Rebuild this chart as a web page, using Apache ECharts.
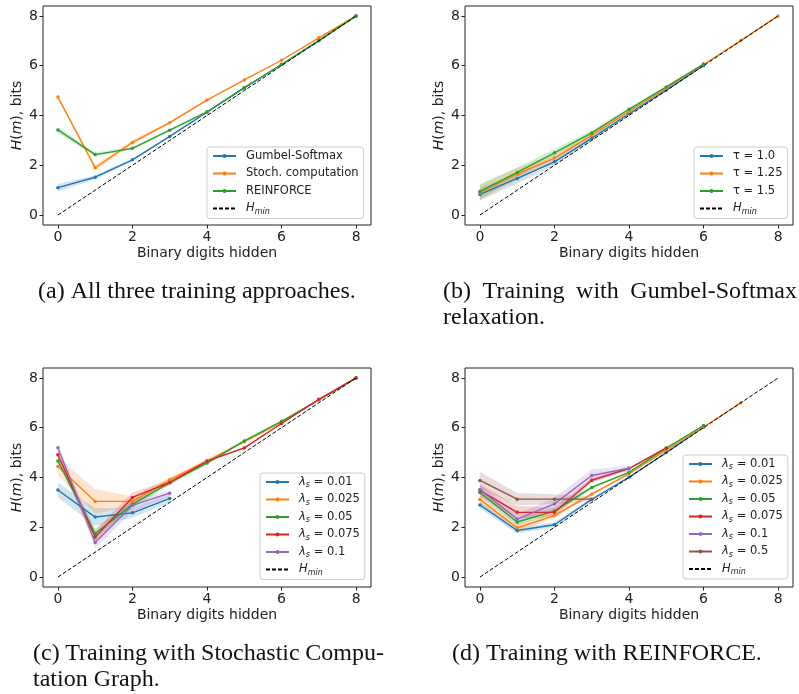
<!DOCTYPE html>
<html>
<head>
<meta charset="utf-8">
<script src="https://cdn.jsdelivr.net/npm/echarts@6/dist/echarts.min.js"></script>
<style>
  html, body { margin: 0; padding: 0; background: #fff; }
  #chart { width: 799px; height: 694px; }
</style>
</head>
<body>
<div id="chart"></div>
<script>
// x positions shared by all panels
const xVals = [0, 1, 2, 3, 4, 5, 6, 7, 8];
const tickVals = [0, 2, 4, 6, 8];
const hMin = [0, 1, 2, 3, 4, 5, 6, 7, 8];

// (a) all three approaches
const aGumbel = [1.10, 1.52, 2.22, 3.16, 4.13, 5.11, 6.05, 7.01, 8.0];
const aStoch = [4.74, 1.90, 2.92, 3.71, 4.62, 5.43, 6.22, 7.12, 8.0];
const aReinforce = [3.42, 2.43, 2.68, 3.41, 4.15, 5.12, 6.05, 7.00, 8.0];
const aGumbelSpread = [0.15, 0.08, 0.05, 0.03, 0.02, 0.02, 0.01, 0.01, 0];
const aStochSpread = [0.05, 0.12, 0.10, 0.05, 0.03, 0.02, 0.02, 0.01, 0];
const aReinforceSpread = [0.12, 0.08, 0.05, 0.04, 0.03, 0.02, 0.01, 0.01, 0];

// (b) Gumbel-Softmax temperatures
const bTau10 = [0.83, 1.47, 2.14, 3.08, 4.07, 5.02, 6.01, null, null];
const bTau125 = [0.90, 1.65, 2.29, 3.20, 4.16, 5.10, 6.05, 7.01, 8.0];
const bTau15 = [0.95, 1.71, 2.50, 3.30, 4.25, 5.15, 6.07, null, null];
const bTau10Spread = [0.25, 0.20, 0.15, 0.08, 0.06, 0.04, 0.02, null, null];
const bTau125Spread = [0.30, 0.25, 0.15, 0.10, 0.06, 0.04, 0.02, 0.01, 0];
const bTau15Spread = [0.30, 0.20, 0.15, 0.10, 0.06, 0.04, 0.02, null, null];

// (c) stochastic computation graph, lambda_s
const cL001 = [3.50, 2.41, 2.58, 3.16, null, null, null, null, null];
const cL0025 = [4.44, 3.04, 3.04, 3.91, 4.66, 5.44, 6.22, 7.12, 8.0];
const cL005 = [4.66, 1.75, 2.92, 3.79, 4.58, 5.47, 6.26, 7.12, 8.0];
const cL0075 = [4.91, 1.61, 3.20, 3.80, 4.66, 5.19, 6.17, 7.14, 8.0];
const cL01 = [5.20, 1.39, 2.88, 3.37, null, null, null, null, null];
const cL001Spread = [0.30, 0.35, 0.20, 0.15, null, null, null, null, null];
const cL0025Spread = [0.35, 0.50, 0.20, 0.10, 0.08, 0.04, 0.03, 0.02, 0];
const cL005Spread = [0.10, 0.20, 0.15, 0.10, 0.05, 0.04, 0.03, 0.02, 0];
const cL0075Spread = [0.15, 0.25, 0.20, 0.10, 0.05, 0.04, 0.03, 0.02, 0];
const cL01Spread = [0.15, 0.25, 0.25, 0.10, null, null, null, null, null];

// (d) REINFORCE, lambda_s
const dL001 = [2.90, 1.87, 2.10, 3.12, 4.01, 5.00, 6.02, null, null];
const dL0025 = [3.12, 1.98, 2.47, 3.33, 4.15, 5.10, 6.03, 7.00, null];
const dL005 = [3.40, 2.21, 2.65, 3.60, 4.21, 5.18, 6.09, null, null];
const dL0075 = [3.48, 2.60, 2.60, 3.89, 4.36, 5.19, null, null, null];
const dL01 = [3.52, 2.33, 2.94, 4.08, 4.37, null, null, null, null];
const dL05 = [3.88, 3.13, 3.13, 3.13, null, null, null, null, null];
const dL001Spread = [0.15, 0.12, 0.10, 0.05, 0.03, 0.02, 0.01, null, null];
const dL0025Spread = [0.15, 0.15, 0.10, 0.05, 0.04, 0.02, 0.01, 0.01, null];
const dL005Spread = [0.15, 0.15, 0.12, 0.06, 0.04, 0.03, 0.02, null, null];
const dL0075Spread = [0.25, 0.25, 0.20, 0.10, 0.05, 0.03, null, null, null];
const dL01Spread = [0.20, 0.20, 0.25, 0.25, 0.10, null, null, null, null];
const dL05Spread = [0.35, 0.25, 0.20, 0.10, null, null, null, null, null];

const COLORS = ['#1f77b4', '#ff7f0e', '#2ca02c', '#d62728', '#9467bd', '#8c564b'];
const FONT = 'DejaVu Sans';

// display labels for legend entries (series names must be unique per panel)
const labels = {};

const toPoints = (ys) => xVals.map((x, i) => ys[i] == null ? null : [x, ys[i]]).filter(p => p);

const series = [];

// shaded spread drawn as one polygon (upper edge forward, lower edge back)
function addBand(panel, ys, spread, color) {
  const pts = xVals.map((x, i) => ys[i] == null ? null : [x, ys[i] - spread[i], ys[i] + spread[i]]).filter(p => p);
  series.push({
    type: 'custom', xAxisIndex: panel, yAxisIndex: panel, data: pts, silent: true, z: 1,
    encode: { x: 0, y: [1, 2] },
    renderItem: (params, api) => {
      if (params.dataIndex !== 0) return null;
      const upper = pts.map(p => api.coord([p[0], p[2]]));
      const lower = pts.map(p => api.coord([p[0], p[1]])).reverse();
      return {
        type: 'polygon', shape: { points: upper.concat(lower) },
        style: { fill: color, opacity: 0.2 }
      };
    }
  });
}

function addLine(panel, key, label, ys, spread, color) {
  const name = panel + ':' + key;
  labels[name] = label;
  addBand(panel, ys, spread, color);
  series.push({
    name: name, type: 'line', xAxisIndex: panel, yAxisIndex: panel,
    data: toPoints(ys), color: color, symbol: 'circle', symbolSize: 3.5,
    lineStyle: { width: 1.4, color: color }, itemStyle: { color: color },
    z: 3, animation: false
  });
  return name;
}

function addMin(panel) {
  const name = panel + ':hmin';
  labels[name] = '{i|H}{s|min}';
  series.push({
    name: name, type: 'line', xAxisIndex: panel, yAxisIndex: panel,
    data: toPoints(hMin), color: '#000', symbol: 'none',
    lineStyle: { width: 1, color: '#000', type: [4, 2] }, z: 4, animation: false
  });
  return { name: name, itemStyle: { opacity: 0 } };
}

const lam = (v) => '{i|λ}{s|s} = ' + v;

const legendA = [
  addLine(0, 'g', 'Gumbel-Softmax', aGumbel, aGumbelSpread, COLORS[0]),
  addLine(0, 's', 'Stoch. computation', aStoch, aStochSpread, COLORS[1]),
  addLine(0, 'r', 'REINFORCE', aReinforce, aReinforceSpread, COLORS[2]),
  addMin(0)
];
const legendB = [
  addLine(1, 't1', 'τ = 1.0', bTau10, bTau10Spread, COLORS[0]),
  addLine(1, 't2', 'τ = 1.25', bTau125, bTau125Spread, COLORS[1]),
  addLine(1, 't3', 'τ = 1.5', bTau15, bTau15Spread, COLORS[2]),
  addMin(1)
];
const legendC = [
  addLine(2, 'l1', lam('0.01'), cL001, cL001Spread, COLORS[0]),
  addLine(2, 'l2', lam('0.025'), cL0025, cL0025Spread, COLORS[1]),
  addLine(2, 'l3', lam('0.05'), cL005, cL005Spread, COLORS[2]),
  addLine(2, 'l4', lam('0.075'), cL0075, cL0075Spread, COLORS[3]),
  addLine(2, 'l5', lam('0.1'), cL01, cL01Spread, COLORS[4]),
  addMin(2)
];
const legendD = [
  addLine(3, 'l1', lam('0.01'), dL001, dL001Spread, COLORS[0]),
  addLine(3, 'l2', lam('0.025'), dL0025, dL0025Spread, COLORS[1]),
  addLine(3, 'l3', lam('0.05'), dL005, dL005Spread, COLORS[2]),
  addLine(3, 'l4', lam('0.075'), dL0075, dL0075Spread, COLORS[3]),
  addLine(3, 'l5', lam('0.1'), dL01, dL01Spread, COLORS[4]),
  addLine(3, 'l6', lam('0.5'), dL05, dL05Spread, COLORS[5]),
  addMin(3)
];

const grids = [
  { left: 43, top: 6, width: 328, height: 219 },
  { left: 465, top: 6, width: 328, height: 219 },
  { left: 43, top: 368, width: 328, height: 219 },
  { left: 465, top: 368, width: 328, height: 219 }
].map(g => Object.assign(g, { show: true, borderColor: '#222', borderWidth: 1, backgroundColor: '#fff' }));

const axisCommon = {
  type: 'value', min: -0.4, max: 8.4,
  splitLine: { show: false },
  axisLine: { show: false, onZero: false },
  axisTick: { show: true, length: 3.5, lineStyle: { color: '#222' }, customValues: tickVals },
  axisLabel: { color: '#222', fontSize: 14, fontFamily: FONT, margin: 5, customValues: tickVals },
  nameLocation: 'middle',
  nameTextStyle: {
    color: '#222', fontSize: 14, fontFamily: FONT,
    rich: { i: { fontStyle: 'italic', fontSize: 14, fontFamily: FONT, color: '#222' } }
  }
};

const xAxes = [0, 1, 2, 3].map(i => Object.assign({}, axisCommon, {
  gridIndex: i, name: 'Binary digits hidden', nameGap: 21
}));
const yAxes = [0, 1, 2, 3].map(i => Object.assign({}, axisCommon, {
  gridIndex: i, name: '{i|H}({i|m}), bits', nameGap: 19
}));

const legendStyle = {
  orient: 'vertical', itemWidth: 23, itemHeight: 5, itemGap: 3.5,
  padding: [2, 5, 3, 5],
  backgroundColor: 'rgba(255,255,255,0.85)', borderColor: '#ccc', borderWidth: 1, borderRadius: 3,
  selectedMode: false,
  formatter: (name) => labels[name],
  textStyle: {
    fontSize: 11.5, fontFamily: FONT, color: '#222', lineHeight: 14, padding: [0, 0, 0, 5],
    rich: {
      i: { fontStyle: 'italic', fontSize: 11.5, fontFamily: FONT, color: '#222', lineHeight: 14 },
      s: { fontStyle: 'italic', fontSize: 8, fontFamily: FONT, color: '#222', lineHeight: 8, verticalAlign: 'bottom' }
    }
  }
};

const legends = [
  Object.assign({}, legendStyle, { data: legendA, left: 207, top: 147 }),
  Object.assign({}, legendStyle, { data: legendB, left: 694, top: 147 }),
  Object.assign({}, legendStyle, { data: legendC, left: 260, top: 473 }),
  Object.assign({}, legendStyle, { data: legendD, left: 683, top: 455 })
];

// figure captions; first lines of two-line captions are justified
const captionFont = '24px "Liberation Serif"';
const measureCtx = document.createElement('canvas').getContext('2d');
measureCtx.font = captionFont;

const captions = [];
function caption(text, x, y, justifyTo) {
  if (!justifyTo) {
    captions.push({ type: 'text', x: x, y: y, style: { text: text, font: captionFont, fill: '#111', verticalAlign: 'middle' } });
    return;
  }
  const words = text.split(' ');
  const widths = words.map(w => measureCtx.measureText(w).width);
  const total = widths.reduce((s, w) => s + w, 0);
  const gap = (justifyTo - x - total) / (words.length - 1);
  let cx = x;
  words.forEach((w, k) => {
    captions.push({ type: 'text', x: cx, y: y, style: { text: w, font: captionFont, fill: '#111', verticalAlign: 'middle' } });
    cx += widths[k] + gap;
  });
}
caption('(a) All three training approaches.', 38, 292);
caption('(b) Training with Gumbel-Softmax', 443, 292, 797);
caption('relaxation.', 443, 318);
caption('(c) Training with Stochastic Compu-', 33, 654, 384);
caption('tation Graph.', 33, 680);
caption('(d) Training with REINFORCE.', 452, 654);

const chart = echarts.init(document.getElementById('chart'), null, { renderer: 'canvas' });
chart.setOption({
  backgroundColor: '#fff',
  animation: false,
  grid: grids,
  xAxis: xAxes,
  yAxis: yAxes,
  legend: legends,
  graphic: captions,
  series: series
});
</script>
</body>
</html>
